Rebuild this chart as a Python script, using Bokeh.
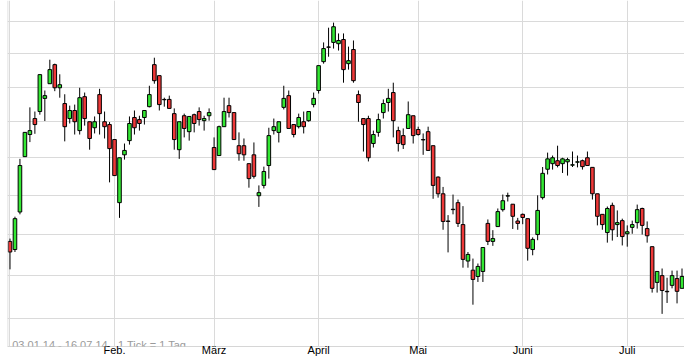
from bokeh.plotting import figure
from bokeh.models import Range1d, FixedTicker, Label, Span, ColumnDataSource
from bokeh.embed import file_html
from bokeh.resources import INLINE

open_ = [
    21.83, 21.63, 22.57, 24.03, 24.64, 25.09, 25.29, 25.67, 26.10, 26.67,
    25.98, 25.52, 25.09, 25.32, 24.75, 25.72, 25.00, 24.83, 25.78, 25.00,
    24.92, 24.50, 22.81, 24.08, 24.47, 25.12, 25.06, 25.12, 25.43, 26.67,
    26.34, 25.64, 25.64, 25.23, 24.22, 25.17, 24.72, 25.20, 25.29, 25.03,
    25.17, 24.28, 24.06, 24.86, 25.46, 25.26, 24.33, 24.33, 23.84, 24.08,
    22.99, 23.26, 23.79, 24.75, 24.70, 25.41, 25.75, 24.92, 24.86, 25.00,
    25.03, 25.49, 25.90, 26.76, 27.21, 27.35, 27.31, 27.44, 26.70, 27.13,
    25.78, 25.09, 25.09, 24.39, 24.70, 25.26, 25.55, 25.84, 24.75, 24.61,
    24.81, 25.17, 24.78, 24.50, 24.72, 24.33, 23.48, 23.04, 22.34, 22.64,
    22.81, 22.25, 21.35, 21.13, 20.98, 21.10, 22.28, 21.83, 22.20, 22.63,
    22.98, 22.77, 22.34, 22.51, 22.40, 21.63, 22.00, 22.94, 23.69, 23.84,
    23.92, 23.84, 23.89, 23.80, 23.88, 23.92, 24.00, 23.74, 23.04, 22.51,
    22.05, 22.74, 22.25, 22.35, 22.02, 22.18, 22.30, 22.66, 22.15, 21.70,
    20.84, 21.00, 20.63, 20.77, 20.93, 20.70,
]
high = [
    21.90, 22.45, 23.97, 24.71, 25.41, 25.29, 26.38, 25.90, 26.82, 26.70,
    26.38, 25.79, 25.46, 25.49, 25.98, 25.84, 25.00, 25.15, 25.95, 25.29,
    24.99, 24.50, 24.00, 24.39, 25.15, 25.32, 25.17, 25.32, 26.04, 26.88,
    26.34, 25.69, 25.75, 25.38, 25.00, 25.23, 25.15, 25.23, 25.41, 25.17,
    25.38, 24.56, 24.89, 25.69, 25.69, 25.26, 24.70, 24.53, 23.84, 24.42,
    23.26, 23.76, 24.83, 25.09, 25.00, 26.04, 25.90, 24.92, 25.23, 25.29,
    25.29, 25.84, 26.64, 27.35, 27.81, 27.97, 27.63, 27.63, 27.22, 27.41,
    25.90, 25.09, 25.17, 24.75, 25.23, 25.64, 25.95, 26.13, 24.86, 24.81,
    25.58, 25.17, 24.86, 24.67, 24.86, 24.33, 23.50, 23.22, 22.49, 23.02,
    22.89, 22.72, 21.57, 21.41, 21.29, 21.68, 22.38, 22.11, 22.66, 23.02,
    23.07, 22.77, 22.42, 22.53, 22.40, 21.93, 23.00, 23.75, 24.14, 24.06,
    24.33, 24.00, 24.00, 24.17, 24.06, 23.95, 24.17, 23.74, 23.04, 22.51,
    22.71, 22.81, 22.61, 22.40, 22.23, 22.35, 22.76, 22.68, 22.33, 21.70,
    21.10, 21.17, 20.95, 21.12, 21.12, 21.17,
]
low = [
    21.15, 21.57, 22.51, 24.03, 24.43, 24.66, 25.20, 25.02, 26.10, 25.88,
    25.69, 24.45, 24.95, 24.64, 24.64, 24.89, 24.22, 24.67, 24.64, 24.53,
    23.34, 23.51, 22.42, 23.95, 24.36, 24.64, 24.75, 24.92, 25.41, 26.10,
    25.32, 25.43, 25.38, 24.22, 23.97, 24.56, 24.47, 24.70, 24.89, 24.75,
    25.03, 23.68, 24.06, 24.86, 25.12, 24.50, 23.92, 23.92, 23.20, 23.44,
    22.70, 23.18, 23.44, 24.64, 24.42, 25.35, 24.81, 24.56, 24.81, 24.67,
    25.00, 25.41, 25.81, 26.70, 26.91, 27.16, 27.10, 26.13, 26.52, 26.13,
    25.00, 24.17, 23.90, 24.28, 24.58, 25.09, 25.29, 24.56, 24.17, 24.24,
    24.81, 24.39, 24.61, 24.08, 24.20, 22.91, 22.94, 22.12, 21.56, 22.51,
    22.19, 21.19, 21.19, 20.32, 20.85, 20.85, 21.74, 21.72, 22.20, 22.58,
    22.84, 22.14, 22.12, 22.26, 21.36, 21.49, 21.86, 22.89, 23.55, 23.68,
    23.74, 23.59, 23.52, 23.75, 23.74, 23.68, 23.79, 22.89, 22.23, 22.12,
    21.80, 21.85, 21.94, 21.73, 21.70, 22.02, 22.15, 22.00, 21.80, 20.60,
    20.60, 20.11, 20.36, 20.70, 20.35, 20.70,
]
close = [
    21.57, 22.40, 23.79, 24.70, 24.75, 24.92, 26.37, 25.75, 26.52, 25.98,
    26.07, 24.86, 25.32, 25.00, 25.69, 25.09, 24.53, 25.00, 25.23, 24.86,
    24.25, 23.52, 24.00, 24.20, 24.95, 24.83, 24.95, 25.32, 25.78, 26.19,
    25.49, 25.63, 25.38, 24.50, 25.00, 24.81, 25.15, 24.95, 25.06, 25.09,
    25.26, 23.68, 24.86, 25.29, 25.26, 24.50, 24.11, 24.08, 23.44, 23.50,
    23.07, 23.63, 24.61, 24.86, 25.00, 25.67, 24.81, 24.64, 25.12, 24.86,
    25.29, 25.67, 26.64, 27.16, 27.20, 27.84, 27.41, 26.52, 26.79, 26.19,
    25.55, 24.92, 24.00, 24.64, 25.06, 25.52, 25.67, 25.03, 24.39, 24.36,
    25.20, 24.61, 24.64, 24.49, 24.20, 23.26, 23.04, 22.33, 22.33, 22.63,
    22.28, 21.39, 21.51, 20.91, 21.22, 21.68, 21.83, 21.90, 22.58, 22.86,
    22.99, 22.46, 22.28, 22.43, 21.66, 21.88, 22.61, 23.58, 23.97, 24.00,
    23.79, 23.97, 23.95, 23.81, 23.89, 23.76, 23.79, 23.04, 22.46, 22.25,
    22.66, 22.12, 22.30, 21.95, 22.07, 22.25, 22.63, 22.23, 21.97, 20.70,
    21.10, 20.65, 20.62, 21.00, 20.63, 20.98,
]

# first trading day of each month (index into the daily series)
month_ticks = [0, 21, 41, 62, 82, 103, 124]
month_labels = ["", "Feb.", "März", "April", "Mai", "Juni", "Juli"]
price_grid = [20, 21, 22, 23, 24, 25, 26, 27, 28]
period_text = "03.01.14 - 16.07.14"
tick_text = "1 Tick = 1 Tag"

GREEN = "#33e833"
RED = "#ee3838"
GRID = "#dadada"
FONT = "Liberation Sans"

n = len(close)
xs = list(range(n))
colors = [GREEN if c >= o else RED for o, c in zip(open_, close)]
tops = [max(o, c) for o, c in zip(open_, close)]
bottoms = [min(o, c) for o, c in zip(open_, close)]

src = ColumnDataSource(dict(x=xs, high=high, low=low, top=tops, bottom=bottoms, color=colors))

x_lo, x_hi = -0.5, 135.5
y_lo, y_hi = 19.38, 28.68
p = figure(
    frame_width=677, frame_height=346,
    x_range=Range1d(x_lo, x_hi),
    y_range=Range1d(y_lo, y_hi),
    y_axis_type="log",
    output_backend="svg", toolbar_location=None,
    min_border_left=7, min_border_right=0,
    min_border_top=0, min_border_bottom=10,
    background_fill_color="white", border_fill_color="white",
)
p.outline_line_color = None
p.yaxis.visible = False

p.ygrid.ticker = FixedTicker(ticks=price_grid)
p.ygrid.grid_line_color = GRID

# month axis: labels only where a name exists, grid lines at every month start
named = [(t, l) for t, l in zip(month_ticks, month_labels) if l]
p.xaxis.ticker = FixedTicker(ticks=[t for t, _ in named])
p.xaxis.major_label_overrides = {t: l for t, l in named}
p.xaxis.axis_line_color = "#d6d6d6"
p.xaxis.major_tick_out = 0
p.xaxis.major_tick_in = 0
p.xaxis.major_tick_line_color = None
p.xaxis.minor_tick_line_color = None
p.xaxis.major_label_standoff = -3
p.xaxis.major_label_text_font = FONT
p.xaxis.major_label_text_font_size = "11px"
p.xaxis.major_label_text_color = "black"
p.xgrid.ticker = FixedTicker(ticks=month_ticks)
p.xgrid.grid_line_color = GRID

# frame line on the left
p.add_layout(Span(location=x_lo + 0.05, dimension="height", line_color="#cfcfcf", line_width=1))

p.segment(x0="x", y0="low", x1="x", y1="high", source=src, line_color="black", line_width=1)
p.vbar(x="x", width=0.72, top="top", bottom="bottom", source=src,
       fill_color="color", line_color="black", line_width=1)

info_y = 19.402
p.add_layout(Label(x=0.45, y=info_y, text=period_text, text_font=FONT,
                   text_font_size="11px", text_color="#9a9a9a", text_baseline="alphabetic"))
p.add_layout(Label(x=21.68, y=info_y, text=tick_text, text_font=FONT,
                   text_font_size="11px", text_color="#9a9a9a", text_baseline="alphabetic"))

open("out.html", "w").write(file_html(p, INLINE))
